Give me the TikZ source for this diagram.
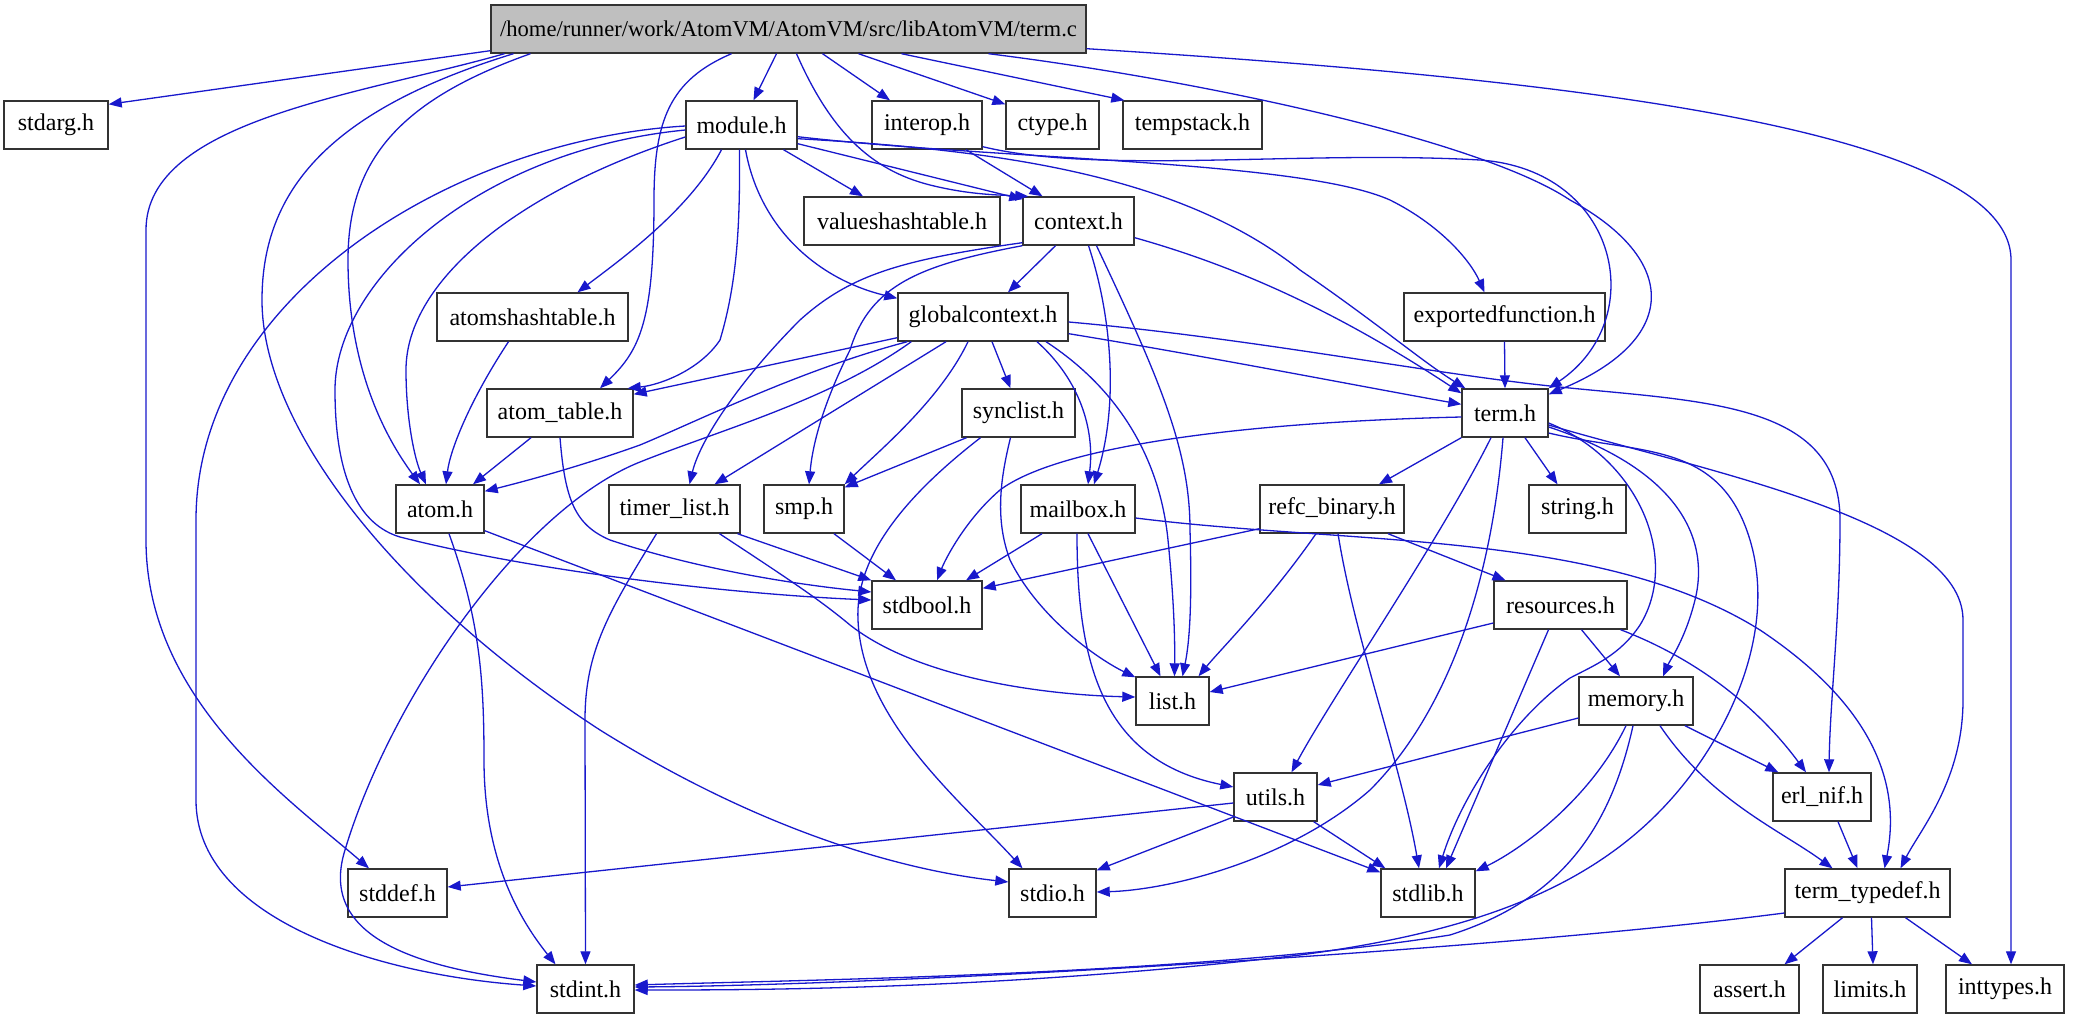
\documentclass[tikz,border=0pt]{standalone}
\usepackage{fontspec}
\setmainfont{Liberation Serif}
\usetikzlibrary{arrows.meta}
\definecolor{edgeblue}{RGB}{24,24,204}
\definecolor{rootgray}{RGB}{191,191,191}
\begin{document}
\begin{tikzpicture}[x=1pt,y=-1pt,
  box/.style={draw=black!80, line width=1.4pt, fill=white, rectangle, minimum height=48pt, inner sep=0pt, font=\fontsize{24pt}{28pt}\selectfont},
  e/.style={draw=edgeblue, line width=1.3pt, -{Triangle[length=13pt,width=10pt]}}]
\fill[white] (0,0) rectangle (2075,1019);
\useasboundingbox (0,0) rectangle (2075,1019);
% nodes
\node[box,fill=rootgray,minimum width=595pt,font=\fontsize{22.6pt}{27pt}\selectfont] (termc) at (788.5,29) {/home/runner/work/AtomVM/AtomVM/src/libAtomVM/term.c};
\node[box,minimum width=104pt] (stdarg) at (56,125) {stdarg.h};
\node[box,minimum width=111pt] (module) at (741.5,125) {module.h};
\node[box,minimum width=110pt] (interop) at (927,125) {interop.h};
\node[box,minimum width=93pt] (ctype) at (1052.5,125) {ctype.h};
\node[box,minimum width=139pt] (tempstack) at (1192.5,125) {tempstack.h};
\node[box,minimum width=196pt] (valueshash) at (902,221) {valueshashtable.h};
\node[box,minimum width=111pt] (context) at (1078.5,221) {context.h};
\node[box,minimum width=191pt] (atomshash) at (532.5,317) {atomshashtable.h};
\node[box,minimum width=170pt] (globalctx) at (983,317) {globalcontext.h};
\node[box,minimum width=201pt] (exported) at (1504.5,317) {exportedfunction.h};
\node[box,minimum width=146pt] (atomtable) at (560,413) {atom\_table.h};
\node[box,minimum width=113pt] (synclist) at (1018.5,413) {synclist.h};
\node[box,minimum width=86pt] (termh) at (1505,413) {term.h};
\node[box,minimum width=88pt] (atomh) at (440,509) {atom.h};
\node[box,minimum width=131pt] (timerlist) at (674.5,509) {timer\_list.h};
\node[box,minimum width=80pt] (smp) at (804,509) {smp.h};
\node[box,minimum width=114pt] (mailbox) at (1078,509) {mailbox.h};
\node[box,minimum width=144pt] (refc) at (1332,509) {refc\_binary.h};
\node[box,minimum width=97pt] (stringh) at (1577.5,509) {string.h};
\node[box,minimum width=110pt] (stdbool) at (927,605) {stdbool.h};
\node[box,minimum width=133pt] (resources) at (1560.5,605) {resources.h};
\node[box,minimum width=73pt] (list) at (1172.5,701) {list.h};
\node[box,minimum width=114pt] (memory) at (1636,701) {memory.h};
\node[box,minimum width=83pt] (utils) at (1275.5,797) {utils.h};
\node[box,minimum width=98pt] (erlnif) at (1822,797) {erl\_nif.h};
\node[box,minimum width=99pt] (stddef) at (397.5,893) {stddef.h};
\node[box,minimum width=87pt] (stdio) at (1052.5,893) {stdio.h};
\node[box,minimum width=94pt] (stdlib) at (1428,893) {stdlib.h};
\node[box,minimum width=165pt] (termtypedef) at (1867.5,893) {term\_typedef.h};
\node[box,minimum width=97pt] (stdint) at (585.5,989) {stdint.h};
\node[box,minimum width=99pt] (assert) at (1749.5,989) {assert.h};
\node[box,minimum width=94pt] (limits) at (1870,989) {limits.h};
\node[box,minimum width=118pt] (inttypes) at (2005,989) {inttypes.h};
% term.c
\draw[e] ([yshift=3pt]termc.south west) -- ([yshift=-4pt]stdarg.north east);
\draw[e] ([xshift=-284pt]termc.south) .. controls (360,95) and (146,120) .. (146,230) -- (146,540) .. controls (146,700) and (290,800) .. (stddef);
\draw[e] ([xshift=-275pt]termc.south) .. controls (330,110) and (262,190) .. (262,300) .. controls (262,430) and (400,600) .. (600,730) .. controls (760,830) and (900,870) .. ([yshift=11pt]stdio.west);
\draw[e] ([xshift=-258pt]termc.south) .. controls (400,100) and (348,160) .. (348,260) .. controls (348,360) and (380,430) .. ([xshift=-20pt]atomh.north);
\draw[e] ([xshift=-57pt]termc.south) .. controls (670,80) and (654,120) .. (654,200) .. controls (654,320) and (640,350) .. ([xshift=40pt]atomtable.north);
\draw[e] ([xshift=-12pt]termc.south) -- ([xshift=12pt]module.north);
\draw[e] ([xshift=8pt]termc.south) .. controls (830,130) and (870,170) .. (930,185) .. controls (970,195) and (1000,195) .. ([xshift=6pt]context.north west);
\draw[e] ([xshift=34pt]termc.south) -- ([xshift=-37pt]interop.north);
\draw[e] ([xshift=70pt]termc.south) -- ([yshift=-4pt]ctype.north west);
\draw[e] ([xshift=113pt]termc.south) -- ([xshift=2pt]tempstack.north west);
\draw[e] ([xshift=200pt]termc.south) .. controls (1200,80) and (1480,140) .. (1570,200) .. controls (1680,260) and (1680,340) .. ([yshift=-6pt]termh.north east);
\draw[e] ([yshift=5pt]termc.south east) .. controls (1500,75) and (2011,120) .. (2011,260) -- ([xshift=6pt]inttypes.north);
% module.h
\draw[e] ([yshift=-1pt]module.west) .. controls (450,140) and (196,300) .. (196,520) -- (196,800) .. controls (196,920) and (380,975) .. ([yshift=3pt]stdint.west);
\draw[e] ([yshift=-5pt]module.west) .. controls (480,150) and (335,280) .. (335,390) .. controls (335,480) and (360,525) .. (400,537) .. controls (550,575) and (750,595) .. ([yshift=5pt]stdbool.west);
\draw[e] ([yshift=-12pt]module.west) .. controls (520,190) and (406,280) .. (406,370) .. controls (406,420) and (415,460) .. ([xshift=-14pt]atomh.north);
\draw[e] ([xshift=-20pt]module.south) .. controls (690,210) and (620,260) .. ([xshift=45pt]atomshash.north);
\draw[e] ([xshift=-2pt]module.south) .. controls (740,220) and (738,280) .. (720,340) .. controls (700,370) and (660,385) .. ([xshift=-6pt]atomtable.north east);
\draw[e] ([xshift=4pt]module.south) .. controls (760,230) and (820,280) .. ([yshift=-6pt]globalctx.north west);
\draw[e] ([xshift=42pt]module.south) -- ([xshift=-39pt]valueshash.north);
\draw[e] ([yshift=6pt]module.south east) -- ([yshift=-3pt]context.north west);
\draw[e] ([yshift=11pt]module.south east) .. controls (1000,150) and (1180,175) .. (1300,270) .. controls (1380,325) and (1420,360) .. ([xshift=4pt]termh.north west);
\draw[e] ([yshift=13pt]module.south east) .. controls (1000,160) and (1300,160) .. (1390,200) .. controls (1440,225) and (1470,260) .. ([xshift=-20pt]exported.north);
% interop.h
\draw[e] ([xshift=39pt]interop.south) -- ([xshift=-36pt]context.north);
\draw[e] ([yshift=3pt]interop.south east) .. controls (1100,175) and (1300,150) .. (1480,160) .. controls (1620,170) and (1650,320) .. (termh.north east);
% context.h
\draw[e] ([xshift=-23pt]context.south) -- ([xshift=25pt]globalctx.north);
\draw[e] ([yshift=3pt]context.south west) .. controls (900,260) and (850,275) .. (800,320) .. controls (740,380) and (700,440) .. ([xshift=15pt]timerlist.north);
\draw[e] (context.south west) .. controls (920,265) and (870,285) .. (850,350) .. controls (820,410) and (812,450) .. ([xshift=5pt]smp.north);
\draw[e] ([xshift=10pt]context.south) .. controls (1110,310) and (1120,400) .. ([xshift=16pt]mailbox.north);
\draw[e] ([xshift=18pt]context.south) .. controls (1160,380) and (1190,450) .. (1190,530) .. controls (1192,600) and (1190,640) .. ([xshift=10pt]list.north);
\draw[e] ([yshift=8pt]context.south east) .. controls (1250,270) and (1350,320) .. ([yshift=-5pt]termh.north west);
% globalcontext.h
\draw[e] ([yshift=4pt]globalctx.south west) -- ([yshift=-6pt]atomtable.north east);
\draw[e] ([xshift=10pt]globalctx.south west) .. controls (800,370) and (700,420) .. (640,445) .. controls (570,470) and (510,485) .. ([yshift=-7pt]atomh.north east);
\draw[e] ([xshift=14pt]globalctx.south west) .. controls (830,400) and (720,430) .. (640,462) .. controls (520,510) and (390,700) .. (345,850) .. controls (320,930) and (400,965) .. ([yshift=7pt]stdint.west);
\draw[e] ([xshift=-37pt]globalctx.south) -- ([xshift=40pt]timerlist.north);
\draw[e] ([xshift=-15pt]globalctx.south) .. controls (940,400) and (880,450) .. (smp.north east);
\draw[e] ([xshift=9pt]globalctx.south) -- ([xshift=-8pt]synclist.north);
\draw[e] ([xshift=54pt]globalctx.south) .. controls (1080,380) and (1095,430) .. ([xshift=10pt]mailbox.north);
\draw[e] ([xshift=63pt]globalctx.south) .. controls (1120,390) and (1160,460) .. (1168,540) .. controls (1174,600) and (1175,640) .. ([xshift=2pt]list.north);
\draw[e] ([yshift=8pt]globalctx.south east) .. controls (1200,355) and (1380,390) .. ([yshift=-16pt]termh.north west);
\draw[e] ([yshift=-5pt]globalctx.east) .. controls (1250,338) and (1420,372) .. (1550,386) .. controls (1700,402) and (1840,400) .. (1840,520) .. controls (1840,620) and (1830,700) .. ([xshift=7pt]erlnif.north);
% synclist.h
\draw[e] ([xshift=-52pt]synclist.south) -- ([yshift=-3pt]smp.north east);
\draw[e] ([xshift=-38pt]synclist.south) .. controls (900,500) and (855,560) .. (858,620) .. controls (862,720) and (960,800) .. ([xshift=-30pt]stdio.north);
\draw[e] ([xshift=-8pt]synclist.south) .. controls (1000,480) and (995,520) .. (1010,560) .. controls (1040,620) and (1100,660) .. ([yshift=-1pt]list.north west);
% atomshashtable.h, atom_table.h
\draw[e] ([xshift=-24pt]atomshash.south) .. controls (470,400) and (450,450) .. ([xshift=6pt]atomh.north);
\draw[e] ([xshift=-29pt]atomtable.south) -- ([xshift=33pt]atomh.north);
\draw[e] (atomtable.south) .. controls (565,500) and (575,525) .. (610,540) .. controls (700,570) and (800,585) .. ([yshift=13pt]stdbool.west);
% atom.h
\draw[e] ([xshift=9pt]atomh.south) .. controls (480,620) and (484,680) .. (484,760) .. controls (484,860) and (520,920) .. ([xshift=-30pt]stdint.north);
\draw[e] ([yshift=3pt]atomh.south east) -- ([yshift=-4pt]stdlib.north west);
% timer_list.h
\draw[e] ([xshift=-18pt]timerlist.south) .. controls (610,610) and (585,650) .. (585,720) -- (stdint.north);
\draw[e] ([xshift=63pt]timerlist.south) -- (stdbool.north west);
\draw[e] ([xshift=45pt]timerlist.south) .. controls (790,580) and (820,600) .. (850,625) .. controls (920,680) and (1050,695) .. ([yshift=4pt]list.west);
% smp.h
\draw[e] ([xshift=30pt]smp.south) -- ([xshift=-31pt]stdbool.north);
% mailbox.h
\draw[e] ([xshift=-36pt]mailbox.south) -- ([xshift=39pt]stdbool.north);
\draw[e] ([xshift=10pt]mailbox.south) -- ([xshift=-12pt]list.north);
\draw[e] ([xshift=-1pt]mailbox.south) .. controls (1077,660) and (1100,760) .. ([yshift=10pt]utils.west);
\draw[e] ([yshift=-9pt]mailbox.east) .. controls (1350,545) and (1600,530) .. (1760,630) .. controls (1880,710) and (1900,790) .. ([xshift=17pt]termtypedef.north);
% refc_binary.h
\draw[e] ([yshift=5pt]refc.south west) -- ([yshift=-8pt]stdbool.north east);
\draw[e] ([xshift=-16pt]refc.south) .. controls (1270,600) and (1220,650) .. ([xshift=26pt]list.north);
\draw[e] ([xshift=56pt]refc.south) -- ([xshift=-55pt]resources.north);
\draw[e] ([xshift=6pt]refc.south) .. controls (1355,640) and (1400,760) .. ([xshift=-9pt]stdlib.north);
% term.h
\draw[e] (termh.south west) -- ([xshift=47pt]refc.north);
\draw[e] ([xshift=20pt]termh.south) -- ([xshift=-20pt]stringh.north);
\draw[e] ([xshift=-14pt]termh.south) .. controls (1440,540) and (1330,700) .. ([xshift=16pt]utils.north);
\draw[e] ([xshift=-2pt]termh.south) .. controls (1490,600) and (1440,720) .. (1370,790) .. controls (1290,860) and (1170,890) .. ([yshift=1pt]stdio.east);
\draw[e] ([yshift=-10pt]termh.east) .. controls (1640,460) and (1680,560) .. (1640,625) .. controls (1620,655) and (1595,665) .. (1570,678) .. controls (1510,720) and (1460,800) .. ([xshift=11pt]stdlib.north);
\draw[e] ([yshift=-14pt]termh.east) .. controls (1680,470) and (1710,540) .. (1695,600) .. controls (1685,640) and (1670,660) .. ([xshift=27pt]memory.north);
\draw[e] ([yshift=-20pt]termh.east) .. controls (1640,455) and (1720,440) .. (1750,540) .. controls (1780,640) and (1720,760) .. (1640,830) .. controls (1560,900) and (1450,935) .. (1300,955) .. controls (1000,990) and (750,990) .. ([yshift=-1pt]stdint.east);
\draw[e] ([yshift=-12pt]termh.east) .. controls (1700,470) and (1963,520) .. (1963,620) -- (1963,700) .. controls (1963,780) and (1920,830) .. ([xshift=33pt]termtypedef.north);
\draw[e] ([yshift=-4pt]termh.west) .. controls (1250,422) and (1060,445) .. (1000,490) .. controls (965,520) and (945,560) .. ([xshift=10pt]stdbool.north);
% resources.h
\draw[e] ([yshift=-18pt]resources.west) -- ([yshift=9pt]list.east);
\draw[e] ([xshift=21pt]resources.south) -- ([xshift=-16pt]memory.north);
\draw[e] ([xshift=-12pt]resources.south) -- ([xshift=18pt]stdlib.north);
\draw[e] ([xshift=60pt]resources.south) .. controls (1700,660) and (1760,710) .. ([xshift=-16pt]erlnif.north);
% memory.h
\draw[e] ([yshift=-17pt]memory.west) -- ([yshift=12pt]utils.east);
\draw[e] ([xshift=-10pt]memory.south) .. controls (1590,800) and (1520,850) .. ([yshift=-3pt]stdlib.north east);
\draw[e] ([xshift=-3pt]memory.south) .. controls (1610,830) and (1560,900) .. (1450,935) .. controls (1200,975) and (800,980) .. ([yshift=4pt]stdint.east);
\draw[e] ([xshift=49pt]memory.south) -- ([xshift=6pt]erlnif.north west);
\draw[e] ([xshift=24pt]memory.south) .. controls (1710,800) and (1780,830) .. ([xshift=-35pt]termtypedef.north);
% utils.h
\draw[e] ([yshift=-6pt]utils.west) -- ([yshift=6pt]stddef.east);
\draw[e] ([yshift=-20pt]utils.west) -- ([yshift=-2pt]stdio.north east);
\draw[e] ([xshift=-4pt]utils.south east) -- ([xshift=5pt]stdlib.north west);
% erl_nif.h
\draw[e] ([xshift=16pt]erlnif.south) -- ([xshift=-10pt]termtypedef.north);
% term_typedef.h
\draw[e] ([yshift=-20pt]termtypedef.west) .. controls (1500,950) and (900,985) .. ([yshift=2pt]stdint.east);
\draw[e] ([xshift=-25pt]termtypedef.south) -- ([xshift=35pt]assert.north);
\draw[e] ([xshift=4pt]termtypedef.south) -- ([xshift=3pt]limits.north);
\draw[e] ([xshift=38pt]termtypedef.south) -- ([xshift=-33pt]inttypes.north);
% exportedfunction.h
\draw[e] (exported.south) -- (termh.north);
\end{tikzpicture}
\end{document}
